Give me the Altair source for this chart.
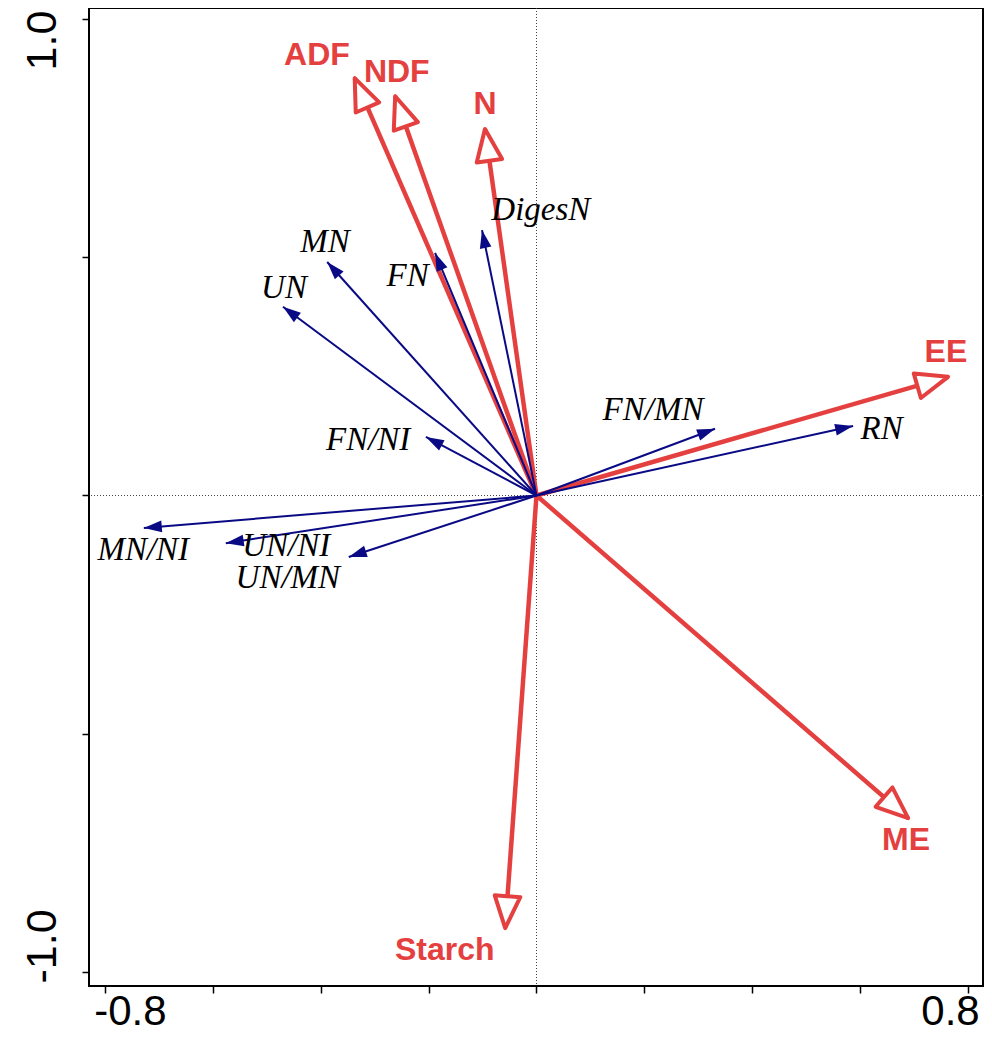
import altair as alt
import pandas as pd

# ---- data (biplot scores) ----
resp_names = ["DigesN", "MN", "UN", "FN", "FN/NI", "FN/MN", "RN", "MN/NI", "UN/NI", "UN/MN"]
resp_x = [-0.101, -0.388, -0.470, -0.188, -0.205, 0.331, 0.587, -0.728, -0.576, -0.348]
resp_y = [0.557, 0.490, 0.396, 0.509, 0.123, 0.140, 0.146, -0.068, -0.100, -0.129]
resp_lab_x = [0.008, -0.392, -0.468, -0.239, -0.312, 0.216, 0.640, -0.729, -0.464, -0.461]
resp_lab_y = [0.599, 0.532, 0.435, 0.461, 0.116, 0.179, 0.140, -0.115, -0.105, -0.174]

env_names = ["ADF", "NDF", "N", "EE", "ME", "Starch"]
env_x = [-0.337, -0.262, -0.0955, 0.763, 0.689, -0.058]
env_y = [0.876, 0.838, 0.769, 0.249, -0.677, -0.908]
env_lab_x = [-0.407, -0.259, -0.0955, 0.759, 0.685, -0.170]
env_lab_y = [0.925, 0.889, 0.822, 0.301, -0.722, -0.954]

x_ticks = [-0.8, -0.6, -0.4, -0.2, 0.0, 0.2, 0.4, 0.6, 0.8]
y_ticks = [-1.0, -0.5, 0.0, 0.5, 1.0]

# ---- layout ----
W, H = 894, 978
XDOM = [-0.8296, 0.8278]
YDOM = [-1.0294, 1.0231]
SX = W / (XDOM[1] - XDOM[0])
SY = H / (YDOM[1] - YDOM[0])

BLUE = "#0a0a85"
RED = "#e54040"

resp = pd.DataFrame({"name": resp_names, "vx": resp_x, "vy": resp_y,
                     "lx": resp_lab_x, "ly": resp_lab_y})
resp["x0"] = 0.0
resp["y0"] = 0.0
env = pd.DataFrame({"name": env_names, "vx": env_x, "vy": env_y,
                    "lx": env_lab_x, "ly": env_lab_y})
env["x0"] = 0.0
env["y0"] = 0.0

xs = alt.Scale(domain=XDOM, nice=False, zero=False)
ys = alt.Scale(domain=YDOM, nice=False, zero=False)

angle_expr = f"(atan2(datum.vx * {SX}, datum.vy * {SY}) * 180 / PI + 360) % 360"

xaxis = alt.Axis(values=x_ticks, title=None, grid=False, domain=False,
                 tickColor="black", tickWidth=1.5, tickSize=7,
                 labelExpr="abs(datum.value) > 0.79 ? (datum.value < 0 ? '-' : '') + format(abs(datum.value), '.1f') : ''",
                 labelFont="Liberation Sans", labelFontSize=42, labelColor="black",
                 labelPadding=31, labelBaseline="alphabetic",
                 labelOffset={"condition": {"test": "datum.value < 0", "value": 25}, "value": -18})
yaxis = alt.Axis(values=y_ticks, title=None, grid=False, domain=False,
                 tickColor="black", tickWidth=1.5, tickSize=7,
                 labelExpr="abs(datum.value) > 0.99 ? (datum.value < 0 ? '-' : '') + format(abs(datum.value), '.1f') : ''",
                 labelFont="Liberation Sans", labelFontSize=43, labelColor="black",
                 labelAngle=270, labelAlign="center", labelBaseline="bottom",
                 labelPadding=18,
                 labelOffset={"condition": {"test": "datum.value > 0", "value": 21}, "value": -26})

base_r = alt.Chart(resp)
base_e = alt.Chart(env)

zero_v = alt.Chart(pd.DataFrame({"v": [0.0]})).mark_rule(
    color="#444444", strokeWidth=1, strokeDash=[1, 2]).encode(
    x=alt.X("v:Q", scale=xs, axis=xaxis))
zero_h = alt.Chart(pd.DataFrame({"v": [0.0]})).mark_rule(
    color="#444444", strokeWidth=1, strokeDash=[1, 2]).encode(
    y=alt.Y("v:Q", scale=ys, axis=yaxis))

env_shaft = base_e.mark_rule(color=RED, strokeWidth=4.5).encode(
    x=alt.X("x0:Q", scale=xs), y=alt.Y("y0:Q", scale=ys),
    x2="vx:Q", y2="vy:Q")

resp_shaft = base_r.mark_rule(color=BLUE, strokeWidth=2).encode(
    x=alt.X("x0:Q", scale=xs), y=alt.Y("y0:Q", scale=ys),
    x2="vx:Q", y2="vy:Q")

resp_head = base_r.transform_calculate(ang=angle_expr).mark_point(
    shape="M0,0 L-0.65,2 L0.65,2 Z", filled=True, fill=BLUE, color=BLUE,
    opacity=1, size=324, strokeWidth=1).encode(
    x=alt.X("vx:Q", scale=xs), y=alt.Y("vy:Q", scale=ys),
    angle=alt.Angle("ang:Q", scale=None))

env_head = base_e.transform_calculate(ang=angle_expr).mark_point(
    shape="M0,0 L-0.8,2 L0.8,2 Z", filled=False, fill="white", fillOpacity=1,
    stroke=RED, strokeWidth=4, opacity=1, size=1024, strokeJoin="round").encode(
    x=alt.X("vx:Q", scale=xs), y=alt.Y("vy:Q", scale=ys),
    angle=alt.Angle("ang:Q", scale=None))

resp_text = base_r.mark_text(font="Liberation Serif", fontStyle="italic",
                             fontSize=33, color="black", align="center",
                             baseline="middle").encode(
    x=alt.X("lx:Q", scale=xs), y=alt.Y("ly:Q", scale=ys), text="name:N")

env_text = base_e.mark_text(font="Liberation Sans", fontWeight="bold",
                            fontSize=32, color=RED, align="center",
                            baseline="middle").encode(
    x=alt.X("lx:Q", scale=xs), y=alt.Y("ly:Q", scale=ys), text="name:N")

chart = alt.layer(zero_v, zero_h, env_shaft, resp_shaft, resp_head, env_head,
                  resp_text, env_text).properties(
    width=W, height=H,
    autosize=alt.AutoSizeParams(type="none"),
    padding={"left": 81, "top": 0, "right": 1, "bottom": 42},
).configure(background="white",
            view=alt.ViewConfig(stroke="black", strokeWidth=2))

chart.save("out.html", embed_options={"renderer": "svg", "actions": False})
